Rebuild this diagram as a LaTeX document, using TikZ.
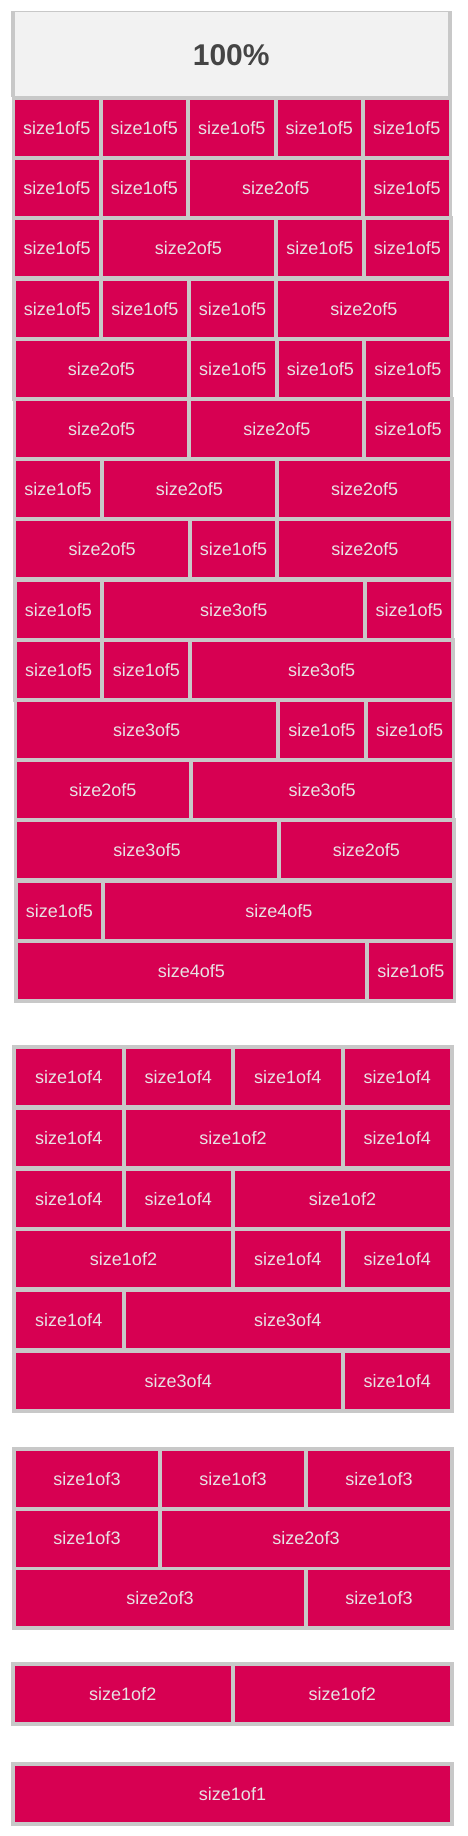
\documentclass[tikz,border=0pt]{standalone}
\usepackage{fontspec}
\setmainfont{Liberation Sans}
\usepackage{xcolor}
\usepackage{tikz}
\definecolor{cellred}{HTML}{D70052}
\definecolor{cellgray}{HTML}{C8C8C8}
\definecolor{celltext}{HTML}{E8E2E4}
\definecolor{headfill}{HTML}{F2F2F2}
\definecolor{headtext}{HTML}{454545}
% one row of cells: name, left, unit pitch, top, list start/units/label
\newcommand{\cellrow}[5]{%
  \edef\cellspec{#5}%
  \foreach \s/\k/\lab [count=\i] in \cellspec {
    \node[cell,minimum width={\k*#3-4}] (#1-\i) at ({#2+\s*#3+(\k*#3-4)/2},{#4+28}) {size\lab};
  }}

\begin{document}
\begin{tikzpicture}[
  x=1pt,y=-1pt,
  cell/.style={fill=cellred,text=celltext,inner sep=0pt,minimum height=56pt,
    font=\fontsize{18}{20}\selectfont},
  rowbg/.style={fill=cellgray},
  headbox/.style={fill=headfill,text=headtext,inner sep=0pt,
    font=\fontsize{30}{32}\selectfont\bfseries}
]
  \useasboundingbox (0,0) rectangle (467,1836);
  % fifths
  \fill[rowbg] (11,11) rectangle (452,97);
  \node[headbox,minimum width=432.5pt,minimum height=84.5pt] (head) at (231.25,54.75) {100\%};
  \foreach \row [count=\r from 0] in {
    {0/1/1of5,1/1/1of5,2/1/1of5,3/1/1of5,4/1/1of5},
    {0/1/1of5,1/1/1of5,2/2/2of5,4/1/1of5},
    {0/1/1of5,1/2/2of5,3/1/1of5,4/1/1of5},
    {0/1/1of5,1/1/1of5,2/1/1of5,3/2/2of5},
    {0/2/2of5,2/1/1of5,3/1/1of5,4/1/1of5},
    {0/2/2of5,2/2/2of5,4/1/1of5},
    {0/1/1of5,1/2/2of5,3/2/2of5},
    {0/2/2of5,2/1/1of5,3/2/2of5},
    {0/1/1of5,1/3/3of5,4/1/1of5},
    {0/1/1of5,1/1/1of5,2/3/3of5},
    {0/3/3of5,3/1/1of5,4/1/1of5},
    {0/2/2of5,2/3/3of5},
    {0/3/3of5,3/2/2of5},
    {0/1/1of5,1/4/4of5},
    {0/4/4of5,4/1/1of5}} {
    \pgfmathsetmacro\rowleft{15+0.2*\r}
    \pgfmathsetmacro\rowunit{(437.5+0.1*\r)/5}
    \pgfmathsetmacro\rowtop{100+60.2*\r}
    \fill[rowbg] (\rowleft-3.5,\rowtop-4) rectangle ({\rowleft+5*\rowunit-0.5},\rowtop+60);
    \cellrow{a\r}{\rowleft}{\rowunit}{\rowtop}{\row}
  }
  % fourths
  \fill[rowbg] (12,1045) rectangle (454,1413);
  \foreach \row [count=\r from 0] in {
    {0/1/1of4,1/1/1of4,2/1/1of4,3/1/1of4},
    {0/1/1of4,1/2/1of2,3/1/1of4},
    {0/1/1of4,1/1/1of4,2/2/1of2},
    {0/2/1of2,2/1/1of4,3/1/1of4},
    {0/1/1of4,1/3/3of4},
    {0/3/3of4,3/1/1of4}} {
    \pgfmathsetmacro\rowtop{1049+60.8*\r}
    \cellrow{b\r}{16}{109.5}{\rowtop}{\row}
  }
  % thirds
  \fill[rowbg] (12,1447) rectangle (454,1630);
  \foreach \row [count=\r from 0] in {
    {0/1/1of3,1/1/1of3,2/1/1of3},
    {0/1/1of3,1/2/2of3},
    {0/2/2of3,2/1/1of3}} {
    \pgfmathsetmacro\rowtop{1451+59.5*\r}
    \cellrow{c\r}{16}{146}{\rowtop}{\row}
  }
  % halves
  \fill[rowbg] (11,1662) rectangle (454,1726);
  \cellrow{d0}{15}{219.5}{1666}{0/1/1of2,1/1/1of2}
  % whole
  \fill[rowbg] (11,1762) rectangle (454,1826);
  \cellrow{e0}{15}{439}{1766}{0/1/1of1}
\end{tikzpicture}
\end{document}
